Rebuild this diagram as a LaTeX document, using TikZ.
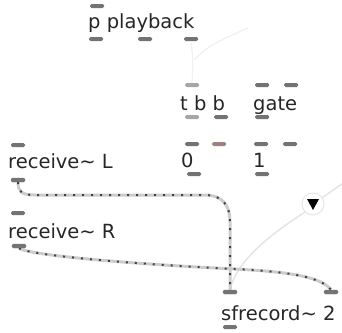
\documentclass[tikz,border=0pt]{standalone}
\usepackage{fontspec}
\setmainfont{DejaVu Sans}
\begin{document}
\begin{tikzpicture}[x=1pt,y=-1pt,
  lbl/.style={anchor=base west, inner sep=0pt, text=black!85,
    font=\fontsize{19.5}{20}\selectfont},
  port/.style={rectangle, rounded corners=1.5pt, fill=black!55,
    minimum width=14pt, minimum height=4pt, inner sep=0pt},
  lport/.style={port, fill=black!35},
  rport/.style={port, fill=red!25!black!50},
  sig/.style={draw=black!20, line width=3pt,
    postaction={draw=black!75, line width=2pt, dash pattern=on 2pt off 7pt}},
  ctl/.style={draw=black!11, line width=1.4pt},
  faint/.style={draw=black!6, line width=1.2pt}]

\useasboundingbox (0,0) rectangle (342,332);

% object texts
\node[lbl] (pplay) at (88,28) {p playback};
\node[lbl] (tbb) at (180,110) {t b b};
\node[lbl] (gate) at (253,110) {gate};
\node[lbl] (zero) at (181,167) {0};
\node[lbl] (one) at (253,167) {1};
\node[lbl] (recL) at (8,168) {receive\textasciitilde{} L};
\node[lbl] (recR) at (8,238) {receive\textasciitilde{} R};
\node[lbl] (sfrec) at (221,320) {sfrecord\textasciitilde{} 2};

% inlets and outlets
\node[port] (pp_in) at (97,6) {};
\node[port] (pp_o1) at (96,39) {};
\node[port] (pp_o2) at (145,39) {};
\node[port] (pp_o3) at (191,39) {};
\node[lport] (tbb_in) at (192,85) {};
\node[lport] (tbb_o1) at (192,117) {};
\node[port] (tbb_o2) at (221,117) {};
\node[port] (gate_in1) at (262,85) {};
\node[port] (gate_in2) at (291,85) {};
\node[port] (gate_o) at (262,117) {};
\node[port] (zero_in1) at (192,144) {};
\node[rport] (zero_in2) at (219,144) {};
\node[port] (zero_o) at (194,174) {};
\node[port] (one_in1) at (261,144) {};
\node[port] (one_in2) at (290,144) {};
\node[port] (one_o) at (262,174) {};
\node[port] (rl_in) at (18,145) {};
\node[port] (rl_out) at (18,180) {};
\node[port] (rr_in) at (18,213) {};
\node[port] (rr_out) at (19,246) {};
\node[port] (sf_in1) at (230,292) {};
\node[port] (sf_in2) at (331,292) {};
\node[port] (sf_out) at (230,327) {};

% toggle-like button
\node[circle, draw=black!10, line width=1pt, minimum size=22pt, inner sep=0pt] (tog) at (313,204) {};
\fill[black] (tog.center) ++(-6,-5) -- ++(12,0) -- ++(-6,11) -- cycle;

% faint control cables
\coordinate (edge) at (342,184);
\coordinate (upright) at (248,28);
\draw[ctl] (edge) -- (tog);
\draw[ctl] (tog.south west) .. controls (268,236) and (236,262) .. (sf_in1.north);
\draw[faint] (pp_o3.south) .. controls (193,60) .. (tbb_in.north);
\draw[faint] (194,60) .. controls (210,45) .. (upright);

% signal cables
\draw[sig] (rl_out.south) .. controls (18,191) and (21,195) .. (35,195)
  -- (205,195) .. controls (222,195) and (230,205) .. (230,222) -- (sf_in1.north);
\draw[sig] (rr_out.south) .. controls (30,256) and (150,265) .. (235,269)
  .. controls (295,272) and (322,278) .. (sf_in2.north);

% redraw the ports over the cable ends
\foreach \p in {rl_out, rr_out, sf_in1, sf_in2}
  \fill[black!55, rounded corners=1.5pt] (\p.north west) rectangle (\p.south east);
\end{tikzpicture}
\end{document}
